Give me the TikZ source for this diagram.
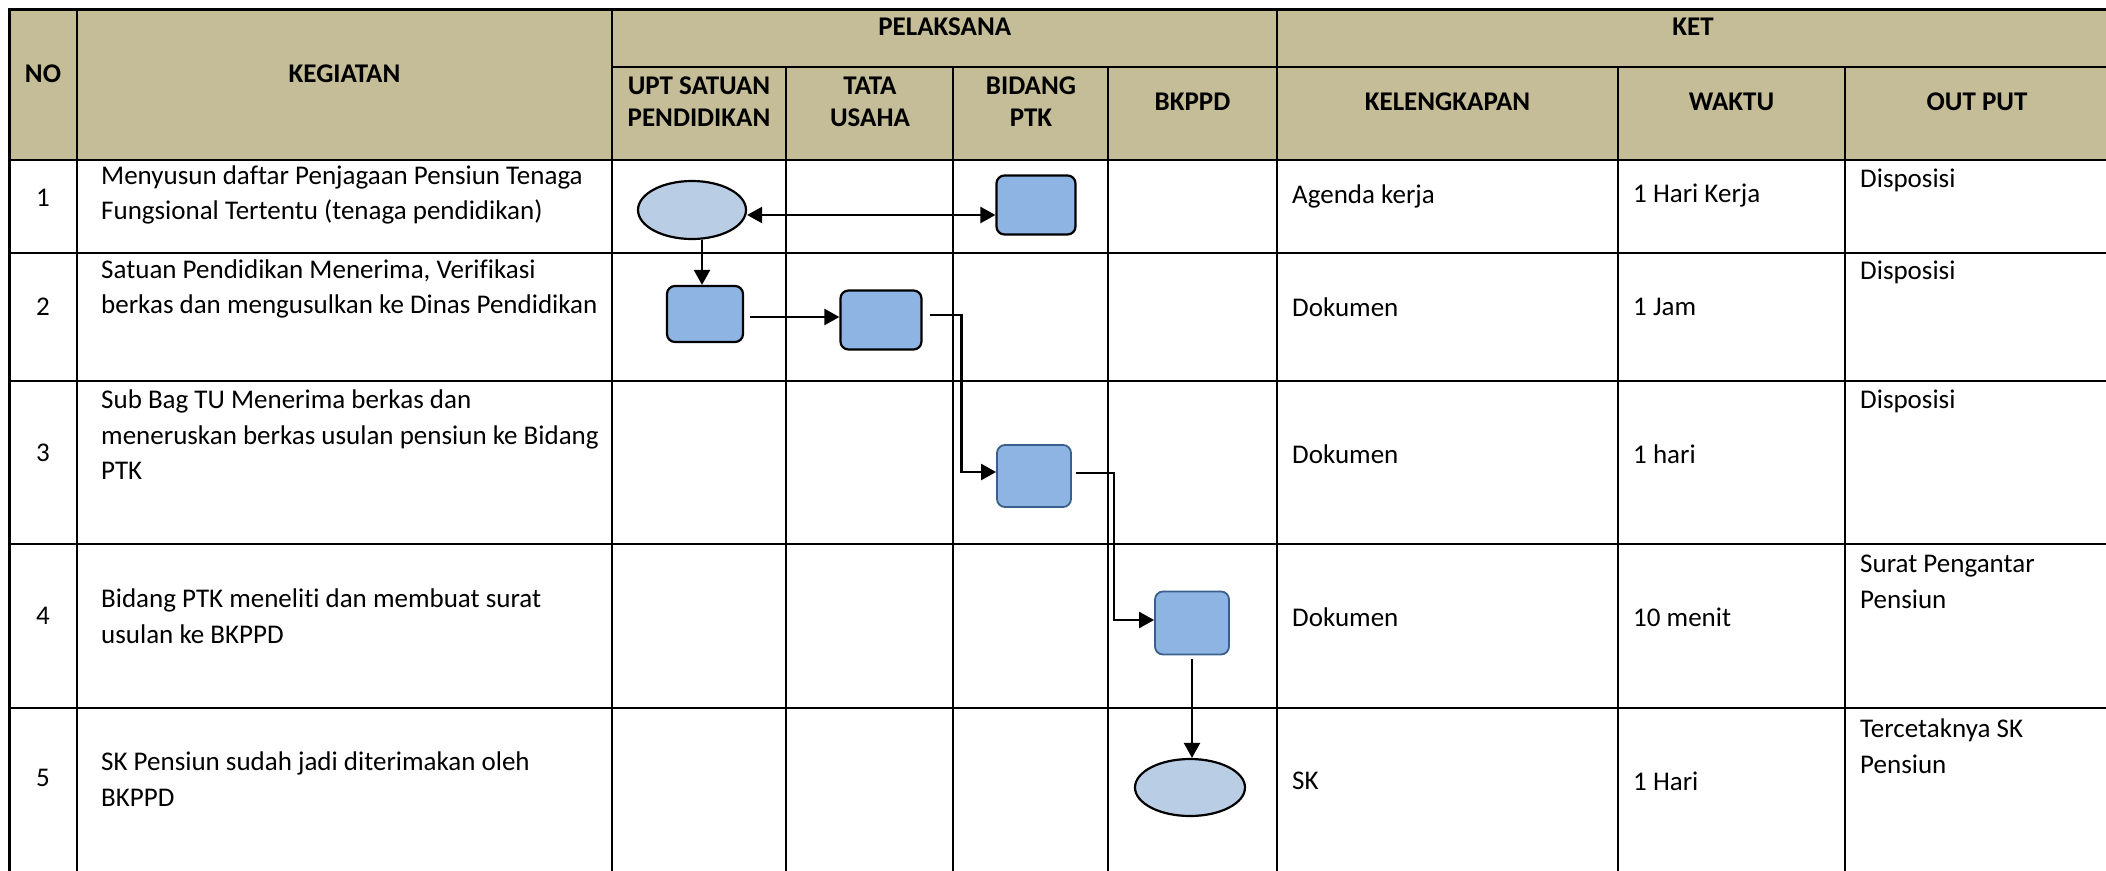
\documentclass[tikz,border=0pt]{standalone}
\usepackage{fontspec}
\setmainfont{Carlito}[Ligatures=NoCommon]
\usetikzlibrary{arrows.meta,shapes.geometric}
\definecolor{hdr}{HTML}{C4BD97}
\definecolor{oval}{HTML}{B9CDE5}
\definecolor{box}{HTML}{8EB4E3}
\definecolor{boxline}{HTML}{3A5F8B}

\begin{document}
\begin{tikzpicture}[x=1pt,y=-1pt,
    grid/.style={line width=2.2pt},
    hd/.style={font=\fontsize{27}{32}\selectfont\bfseries,inner sep=0pt,align=center},
    txt/.style={font=\fontsize{27}{35.5}\selectfont,inner sep=0pt,align=left,anchor=west},
    num/.style={font=\fontsize{27}{35.5}\selectfont,inner sep=0pt},
    term/.style={ellipse,draw,line width=2.2pt,fill=oval,inner sep=0pt},
    proc/.style={rectangle,draw,line width=2.2pt,rounded corners=8pt,fill=box,inner sep=0pt},
    flow/.style={line width=2.4pt,>={Triangle[length=15pt,width=16pt]}}]
   \useasboundingbox (0,0) rectangle (2106,870);
   % table
   \fill[hdr] (9.5,9.5) rectangle (2112,160);
   \draw[grid] (612,67) -- (2112,67);
   \foreach \y in {160,253,381,544,708}
     \draw[grid] (9.5,\y) -- (2112,\y);
   \foreach \x in {77,612,1277}
     \draw[grid] (\x,9.5) -- (\x,880);
   \foreach \x in {786,953,1108,1618,1845}
     \draw[grid] (\x,67) -- (\x,880);
   \draw[line width=3pt] (9.5,880) -- (9.5,9.5) -- (2112,9.5);
   \draw[line width=3pt] (2109,9.5) -- (2109,880);

   % header
   \node[hd] (hno)  at (43,74)     {NO};
   \node[hd] (hkeg) at (344.5,74)  {KEGIATAN};
   \node[hd] (hpel) at (944.7,27)  {PELAKSANA};
   \node[hd] (hket) at (1693,27)   {KET};
   \node[hd] (hupt) at (699,102)   {UPT SATUAN\\PENDIDIKAN};
   \node[hd] (htu)  at (870,102)   {TATA\\USAHA};
   \node[hd] (hptk) at (1031,102)  {BIDANG\\PTK};
   \node[hd] (hbk)  at (1192.5,102){BKPPD};
   \node[hd] (hkel) at (1447.5,102){KELENGKAPAN};
   \node[hd] (hwkt) at (1731.5,102){WAKTU};
   \node[hd] (hout) at (1977,102)  {OUT PUT};

   % rows
   \node[num] (no1) at (43,198) {1};
   \node[num] (no2) at (43,307) {2};
   \node[num] (no3) at (43,453) {3};
   \node[num] (no4) at (43,616) {4};
   \node[num] (no5) at (43,778) {5};
   \node[txt] (keg1) at (101,195) {Menyusun daftar Penjagaan Pensiun Tenaga\\Fungsional Tertentu (tenaga pendidikan)};
   \node[txt] (keg2) at (101,289) {Satuan Pendidikan Menerima, Verifikasi\\berkas dan mengusulkan ke Dinas Pendidikan};
   \node[txt] (keg3) at (101,435) {Sub Bag TU Menerima berkas dan\\meneruskan berkas usulan pensiun ke Bidang\\PTK};
   \node[txt] (keg4) at (101,616) {Bidang PTK meneliti dan membuat surat\\usulan ke BKPPD};
   \node[txt] (keg5) at (101,779) {SK Pensiun sudah jadi diterimakan oleh\\BKPPD};
   \node[txt] (kel1) at (1292,196) {Agenda kerja};
   \node[txt] (kel2) at (1292,307) {Dokumen};
   \node[txt] (kel3) at (1292,454) {Dokumen};
   \node[txt] (kel4) at (1292,617) {Dokumen};
   \node[txt] (kel5) at (1292,781) {SK};
   \node[txt] (wkt1) at (1633,196) {1 Hari Kerja};
   \node[txt] (wkt2) at (1633,307) {1 Jam};
   \node[txt] (wkt3) at (1633,454) {1 hari};
   \node[txt] (wkt4) at (1633,617) {10 menit};
   \node[txt] (wkt5) at (1633,781) {1 Hari};
   \node[txt] (out1) at (1860,180) {Disposisi};
   \node[txt] (out2) at (1860,272) {Disposisi};
   \node[txt] (out3) at (1860,401) {Disposisi};
   \node[txt] (out4) at (1860,582) {Surat Pengantar\\Pensiun};
   \node[txt] (out5) at (1860,746) {Tercetaknya SK\\Pensiun};

   % flow
   \node[term,minimum width=108pt,minimum height=58pt] (e1) at (692,210) {};
   \node[proc,minimum width=79pt,minimum height=59pt] (r1) at (1036,205) {};
   \node[proc,minimum width=76pt,minimum height=56pt] (r2a) at (705,314) {};
   \node[proc,minimum width=81pt,minimum height=59pt] (r2b) at (881,320) {};
   \node[proc,draw=boxline,line width=1.8pt,minimum width=74pt,minimum height=62pt] (r3) at (1034,476) {};
   \node[proc,draw=boxline,line width=1.8pt,minimum width=74pt,minimum height=63pt] (r4) at (1192,623) {};
   \node[term,minimum width=110pt,minimum height=57pt] (e5) at (1190,787.5) {};

   \draw[flow,<->] ([yshift=-5pt]e1.east) -- ([yshift=-5pt]e1.east -| r1.west);
   \draw[flow,->] ([xshift=-3pt]r2a.north |- e1.south) -- ([xshift=-3pt]r2a.north);
   \draw[flow,->] ([xshift=6pt,yshift=-3pt]r2a.east) -- ([yshift=-3pt]r2a.east -| r2b.west);
   \draw[flow,->] ([xshift=7pt,yshift=5pt]r2b.east) -- ++(32,0) |- ([yshift=4pt]r3.west);
   \draw[flow,->] ([xshift=4pt,yshift=3pt]r3.east) -- ++(38,0) |- ([yshift=3pt]r4.west);
   \draw[flow,->] ([yshift=-4pt]r4.south) -- (r4.south |- e5.north);
\end{tikzpicture}
\end{document}
